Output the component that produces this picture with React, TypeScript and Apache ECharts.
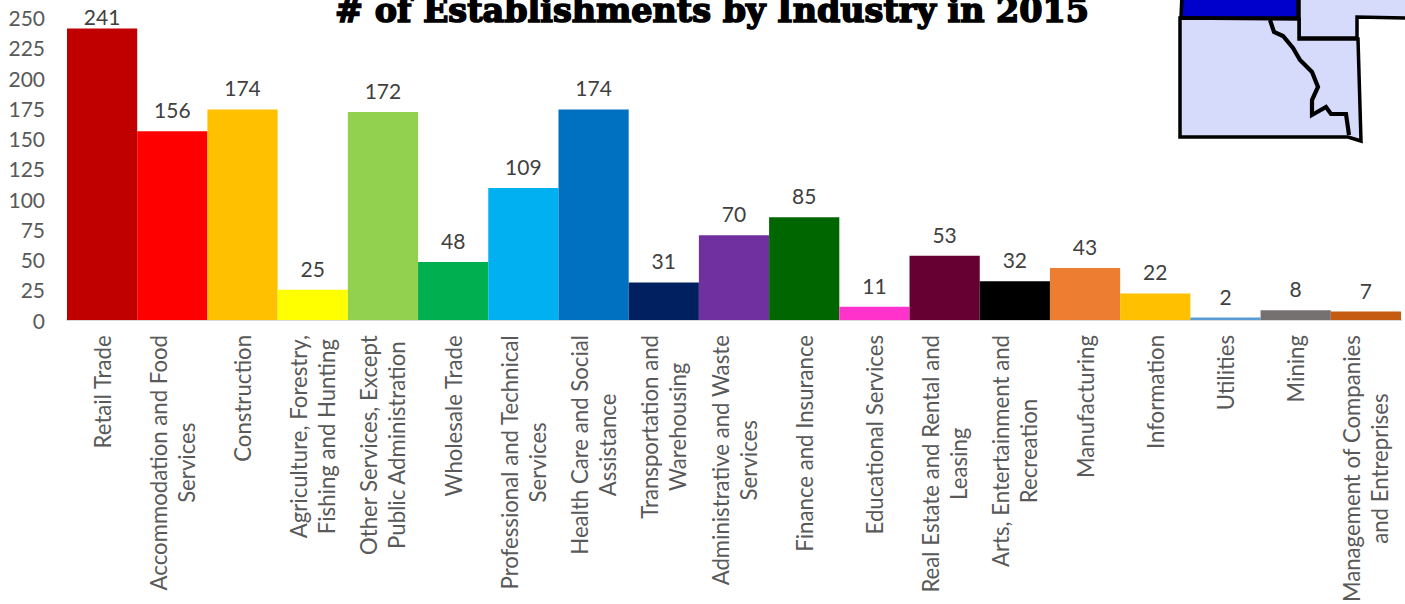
import React, { useEffect, useRef } from "react";
import * as echarts from "echarts";

const categories = [
  "Retail Trade",
  "Accommodation and Food\nServices",
  "Construction",
  "Agriculture, Forestry,\nFishing and Hunting",
  "Other Services, Except\nPublic Administration",
  "Wholesale Trade",
  "Professional and Technical\nServices",
  "Health Care and Social\nAssistance",
  "Transportation and\nWarehousing",
  "Administrative and Waste\nServices",
  "Finance and Insurance",
  "Educational Services",
  "Real Estate and Rental and\nLeasing",
  "Arts, Entertainment and\nRecreation",
  "Manufacturing",
  "Information",
  "Utilities",
  "Mining",
  "Management of Companies\nand Entreprises",
];
const values = [241, 156, 174, 25, 172, 48, 109, 174, 31, 70, 85, 11, 53, 32, 43, 22, 2, 8, 7];
const barColors = [
  "#C00000", "#FF0000", "#FFC000", "#FFFF00", "#92D050", "#00B050", "#00B0F0", "#0070C0", "#002060",
  "#7030A0", "#006600", "#FF33CC", "#660033", "#000000", "#ED7D31", "#FFC000", "#5B9BD5", "#767171", "#C55A11",
];
const chartTitle = "# of Establishments by Industry in 2015";

const mapFill = "#D6DAFB";
const mapBlue = "#0000CC";
const outline = { stroke: "#000000", lineWidth: 3.5, lineJoin: "miter" as const };

const blueCounty = [[1182, -6], [1298, -6], [1298, 18], [1181, 18]];
const northEastCounty = [[1299, -6], [1410, -6], [1410, 18], [1357, 17], [1357, 38], [1299, 38]];
const southCounty = [[1180, 18], [1299, 19], [1299, 39], [1358, 39], [1361, 141], [1348, 137], [1180, 137]];
const river = [
  [1270, 20], [1274, 32], [1283, 36], [1293, 48], [1300, 60], [1312, 72], [1318, 87], [1312, 100],
  [1312, 115], [1326, 107], [1331, 114], [1346, 114], [1349, 135],
];

export default function App() {
  const ref = useRef<HTMLDivElement>(null);

  useEffect(() => {
    const chart = echarts.init(ref.current!, null, { renderer: "svg" });
    chart.setOption({
      animation: false,
      backgroundColor: "#FFFFFF",
      grid: { left: 67, right: 4, top: 17.5, height: 302.5, containLabel: false, outerBoundsMode: "none" },
      xAxis: {
        type: "category",
        data: categories,
        axisTick: { show: false },
        axisLine: { show: true, lineStyle: { color: "#D9D9D9", width: 2 } },
        axisLabel: {
          interval: 0,
          rotate: 90,
          margin: 15,
          color: "#595959",
          fontFamily: "Lato",
          fontSize: 22.2,
          lineHeight: 28,
          hideOverlap: false,
          formatter: (v: string) => v.split("\n").map((l) => `{c|${l}}`).join("\n"),
          rich: {
            c: { align: "center", color: "#595959", fontFamily: "Lato", fontSize: 22.2, lineHeight: 28 },
          },
        },
      },
      yAxis: {
        type: "value",
        min: 0,
        max: 250,
        interval: 25,
        axisLine: { show: false },
        axisTick: { show: false },
        splitLine: { show: false },
        axisLabel: { color: "#595959", fontFamily: "Lato", fontSize: 21, margin: 22, padding: [0, 0, 2, 0] },
      },
      series: [
        {
          type: "bar",
          barWidth: "100%",
          barCategoryGap: 0,
          data: values.map((v, i) => ({
            value: v,
            itemStyle: { color: barColors[i] },
            ...(i === 0 ? { label: { distance: 1 } } : {}),
          })),
          label: {
            show: true,
            position: "top",
            distance: 11,
            color: "#404040",
            fontFamily: "Lato",
            fontSize: 21,
          },
        },
      ],
      graphic: [
        {
          type: "text",
          x: 712,
          y: 27,
          style: {
            text: chartTitle,
            fill: "#000000",
            stroke: "#000000",
            lineWidth: 1.6,
            font: "900 33.4px 'DejaVu Serif'",
            align: "center",
            verticalAlign: "bottom",
          },
        },
        { type: "polygon", shape: { points: northEastCounty }, style: { fill: mapFill, ...outline } },
        { type: "polygon", shape: { points: blueCounty }, style: { fill: mapBlue, ...outline } },
        { type: "polygon", shape: { points: southCounty }, style: { fill: mapFill, ...outline } },
        { type: "polyline", shape: { points: river }, style: { fill: "none", ...outline, lineWidth: 4.2 } },
      ],
    });
    return () => chart.dispose();
  }, []);

  return <div ref={ref} style={{ position: "absolute", left: 0, top: 0, width: 1405, height: 604 }} />;
}
